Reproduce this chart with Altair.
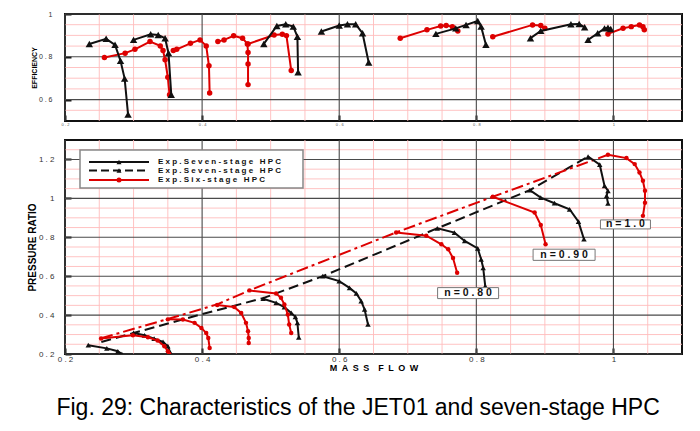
import altair as alt
import pandas as pd

X_DOMAIN = [0.2, 1.1]
X_TICKS = [0.2, 0.4, 0.6, 0.8, 1.0]
X_MINOR = [0.25, 0.3, 0.35, 0.45, 0.5, 0.55, 0.65, 0.7, 0.75, 0.85, 0.9, 0.95, 1.05]

EFF_DOMAIN = [0.5, 1.0]
EFF_TICKS = [0.6, 0.8, 1.0]
EFF_MINOR = [0.55, 0.65, 0.7, 0.75, 0.85, 0.9, 0.95]

PR_DOMAIN = [0.2, 1.3]
PR_TICKS = [0.2, 0.4, 0.6, 0.8, 1.0, 1.2]
PR_MINOR = [0.25, 0.3, 0.35, 0.45, 0.5, 0.55, 0.65, 0.7, 0.75, 0.85, 0.9, 0.95, 1.05, 1.1, 1.15, 1.25]

# ---- Pressure ratio (bottom panel) ----
seven_mf = [
    [0.234, 0.261, 0.277, 0.283],
    [0.300, 0.316, 0.330, 0.343, 0.350, 0.354],
    [0.489, 0.508, 0.520, 0.530, 0.536, 0.539, 0.541],
    [0.576, 0.600, 0.615, 0.625, 0.632, 0.637, 0.642],
    [0.743, 0.768, 0.783, 0.802, 0.807, 0.810, 0.813],
    [0.878, 0.894, 0.914, 0.936, 0.949, 0.957],
    [0.963, 0.980, 0.987, 0.992, 0.990, 0.992],
]
seven_pr = [
    [0.245, 0.229, 0.214, 0.200],
    [0.308, 0.296, 0.279, 0.262, 0.240, 0.205],
    [0.484, 0.463, 0.441, 0.411, 0.391, 0.360, 0.286],
    [0.600, 0.575, 0.540, 0.511, 0.472, 0.429, 0.352],
    [0.846, 0.824, 0.781, 0.743, 0.687, 0.643, 0.549],
    [1.042, 1.004, 0.975, 0.944, 0.880, 0.790],
    [1.215, 1.173, 1.064, 1.039, 1.013, 0.974],
]
six_mf = [
    [0.2526, 0.299, 0.321, 0.335, 0.345, 0.350, 0.352],
    [0.350, 0.372, 0.389, 0.399, 0.406, 0.409, 0.411],
    [0.422, 0.447, 0.457, 0.464, 0.467, 0.468, 0.468],
    [0.469, 0.508, 0.515, 0.520, 0.525, 0.527, 0.530],
    [0.683, 0.727, 0.749, 0.759, 0.766, 0.772],
    [0.824, 0.885, 0.894, 0.901],
    [0.992, 1.019, 1.031, 1.038, 1.043, 1.046, 1.046, 1.043],
]
six_pr = [
    [0.280, 0.296, 0.286, 0.269, 0.240, 0.214, 0.200],
    [0.378, 0.377, 0.360, 0.334, 0.308, 0.282, 0.231],
    [0.452, 0.441, 0.411, 0.360, 0.317, 0.282, 0.257],
    [0.527, 0.511, 0.489, 0.455, 0.403, 0.352, 0.308],
    [0.825, 0.808, 0.764, 0.738, 0.693, 0.618],
    [1.008, 0.927, 0.863, 0.764],
    [1.224, 1.207, 1.176, 1.133, 1.090, 1.039, 0.978, 0.910],
]
seven_surge_mf = [0.253, 0.300, 0.400, 0.489, 0.576, 0.743, 0.878, 0.963]
seven_surge_pr = [0.262, 0.308, 0.405, 0.487, 0.600, 0.846, 1.042, 1.215]
six_surge_mf = [0.2526, 0.350, 0.422, 0.469, 0.683, 0.824, 0.992]
six_surge_pr = [0.281, 0.380, 0.455, 0.527, 0.825, 1.008, 1.224]

# ---- Efficiency (top panel) ----
seven_eff_mf = [
    [0.2355, 0.260, 0.273, 0.281, 0.287, 0.292],
    [0.300, 0.325, 0.336, 0.346, 0.351, 0.355],
    [0.490, 0.509, 0.522, 0.533, 0.539, 0.540],
    [0.574, 0.600, 0.612, 0.624, 0.634, 0.643],
    [0.741, 0.770, 0.785, 0.802, 0.807, 0.814],
    [0.879, 0.894, 0.938, 0.950, 0.958],
    [0.963, 0.977, 0.987, 0.992, 0.996],
]
seven_eff = [
    [0.860, 0.884, 0.856, 0.781, 0.698, 0.530],
    [0.879, 0.905, 0.902, 0.887, 0.817, 0.623],
    [0.860, 0.944, 0.952, 0.941, 0.894, 0.728],
    [0.918, 0.946, 0.952, 0.952, 0.910, 0.773],
    [0.907, 0.933, 0.949, 0.967, 0.941, 0.856],
    [0.887, 0.921, 0.952, 0.953, 0.938],
    [0.879, 0.910, 0.933, 0.936, 0.930],
]
six_eff_mf = [
    [0.2575, 0.2877, 0.302, 0.324, 0.339, 0.343, 0.346, 0.350, 0.3525],
    [0.358, 0.363, 0.383, 0.397, 0.406, 0.410, 0.411],
    [0.423, 0.432, 0.446, 0.459, 0.466, 0.467, 0.467, 0.467],
    [0.467, 0.505, 0.517, 0.523, 0.530],
    [0.689, 0.728, 0.748, 0.756, 0.765, 0.773],
    [0.824, 0.882, 0.894, 0.900],
    [0.992, 1.014, 1.026, 1.038, 1.043, 1.045],
]
six_eff = [
    [0.797, 0.817, 0.835, 0.871, 0.851, 0.829, 0.786, 0.704, 0.623],
    [0.829, 0.835, 0.863, 0.879, 0.851, 0.758, 0.631],
    [0.871, 0.879, 0.898, 0.887, 0.860, 0.820, 0.766, 0.670],
    [0.860, 0.902, 0.905, 0.899, 0.736],
    [0.887, 0.926, 0.944, 0.946, 0.941, 0.921],
    [0.894, 0.949, 0.946, 0.933],
    [0.907, 0.933, 0.941, 0.949, 0.941, 0.926],
]

speed_labels = ["n = 1 . 0", "n = 0 . 9 0", "n = 0 . 8 0"]
speed_label_mf = [1.0175, 0.928, 0.788]
speed_label_pr = [0.866, 0.710, 0.513]
speed_box_w = [50, 62, 61]

legend_labels = ["Exp.Seven-stage HPC", "Exp.Seven-stage HPC", "Exp.Six-stage HPC"]

BLACK = "#111111"
RED = "#dd0000"
FONT = "Liberation Sans"
NB = "\u00a0"
EN = "\u2002"
LBL = ("datum.value == 1 ? '1' : replace(format(datum.value, '.1f'), '.', '"
       + NB + "." + NB + "')")


def spaced(s, gap=NB, word_gap=None):
    if word_gap is None:
        word_gap = gap * 3
    return word_gap.join(gap.join(w) for w in s.split(" "))


def long_df(mfs, vals, name):
    rows = []
    for c, (xv, yv) in enumerate(zip(mfs, vals)):
        for i, (x, y) in enumerate(zip(xv, yv)):
            rows.append({"curve": f"{name}{c}", "idx": i, "mf": x, "val": y})
    return pd.DataFrame(rows)


def make_enc(xaxis, ydomain, yaxis):
    def xs():
        return alt.X("mf:Q", scale=alt.Scale(domain=X_DOMAIN, nice=False, zero=False), axis=xaxis)

    def ys():
        return alt.Y("val:Q", scale=alt.Scale(domain=ydomain, nice=False, zero=False), axis=yaxis)
    return xs, ys


def grid_layers(xs, ys, yticks, yminor):
    return [
        alt.Chart(pd.DataFrame({"mf": X_MINOR})).mark_rule(color="#ffbcbc", strokeWidth=0.9).encode(x=xs()),
        alt.Chart(pd.DataFrame({"val": yminor})).mark_rule(color="#ffbcbc", strokeWidth=0.9).encode(y=ys()),
        alt.Chart(pd.DataFrame({"mf": X_TICKS})).mark_rule(color="#4a4a4a", strokeWidth=1.1).encode(x=xs()),
        alt.Chart(pd.DataFrame({"val": yticks})).mark_rule(color="#4a4a4a", strokeWidth=1.1).encode(y=ys()),
    ]


def curve_layers(df, xs, ys, color, shape, size, width=2):
    line = alt.Chart(df).mark_line(color=color, strokeWidth=width, clip=True).encode(
        x=xs(), y=ys(), detail="curve:N", order="idx:Q"
    )
    pts = alt.Chart(df).mark_point(
        shape=shape, filled=True, color=color, size=size, opacity=1, clip=True
    ).encode(x=xs(), y=ys(), detail="curve:N")
    return [line, pts]


TICK_IN = dict(ticks=True, tickSize=6, tickWidth=2, tickColor=BLACK, offset=-6)

# ---------------- top panel ----------------
top_xaxis = alt.Axis(values=X_TICKS, labelExpr=LBL, labelFontSize=4, labelPadding=1,
                     labelColor="#555", domain=False, grid=False, title=None,
                     labelFlush=False, labelOverlap=False, **TICK_IN)
top_yaxis = alt.Axis(values=EFF_TICKS, labelExpr=LBL, labelFontSize=7, labelPadding=13,
                     labelColor="#333", domain=False, grid=False,
                     title="EFFICIENCY", titleFontSize=7, titleFontWeight="bold",
                     titlePadding=1, titleColor="black", labelOverlap=False, **TICK_IN)
txs, tys = make_enc(top_xaxis, EFF_DOMAIN, top_yaxis)

top_layers = grid_layers(txs, tys, EFF_TICKS, EFF_MINOR)
top_layers += curve_layers(long_df(six_eff_mf, six_eff, "s"), txs, tys, RED, "circle", 30)
top_layers += curve_layers(long_df(seven_eff_mf, seven_eff, "b"), txs, tys, BLACK, "triangle-up", 55)
top = alt.layer(*top_layers).properties(width=617, height=107)

# ---------------- bottom panel ----------------
bot_xaxis = alt.Axis(values=X_TICKS, labelExpr=LBL, labelFontSize=8, labelPadding=1,
                     labelColor="#333", domain=False, grid=False,
                     title=spaced("MASS FLOW", EN, EN + EN), titleFontSize=9,
                     titleFontWeight="bold", titlePadding=0, titleColor="black",
                     labelFlush=False, labelOverlap=False, **TICK_IN)
bot_yaxis = alt.Axis(values=PR_TICKS, labelExpr=LBL, labelFontSize=8, labelPadding=11,
                     labelColor="#333", domain=False, grid=False,
                     title="PRESSURE RATIO", titleFontSize=10, titleFontWeight="bold",
                     titlePadding=1, titleColor="black", labelOverlap=False, **TICK_IN)
bxs, bys = make_enc(bot_xaxis, PR_DOMAIN, bot_yaxis)

bot_layers = grid_layers(bxs, bys, PR_TICKS, PR_MINOR)

seven_surge = pd.DataFrame({"mf": seven_surge_mf, "val": seven_surge_pr, "idx": range(len(seven_surge_mf))})
six_surge = pd.DataFrame({"mf": six_surge_mf, "val": six_surge_pr, "idx": range(len(six_surge_mf))})
bot_layers.append(alt.Chart(seven_surge).mark_line(color=BLACK, strokeWidth=2, strokeDash=[10, 5], clip=True)
                  .encode(x=bxs(), y=bys(), order="idx:Q"))
bot_layers.append(alt.Chart(six_surge).mark_line(color=RED, strokeWidth=2, strokeDash=[12, 4, 3, 4], clip=True)
                  .encode(x=bxs(), y=bys(), order="idx:Q"))
bot_layers += curve_layers(long_df(seven_mf, seven_pr, "b"), bxs, bys, BLACK, "triangle-up", 30)
bot_layers += curve_layers(long_df(six_mf, six_pr, "s"), bxs, bys, RED, "circle", 20)

# speed labels with boxes
for lab, xm, yv, w in zip(speed_labels, speed_label_mf, speed_label_pr, speed_box_w):
    d = pd.DataFrame({"mf": [xm], "val": [yv], "t": [spaced(lab.replace(" ", ""))]})
    bot_layers.append(alt.Chart(d).mark_point(
        shape="M-1,-0.18H1V0.18H-1Z", filled=True, fill="white", stroke="#777777",
        strokeWidth=1, opacity=1, size=w * w).encode(x=bxs(), y=bys()))
    bot_layers.append(alt.Chart(d).mark_text(font=FONT, fontSize=10.5, fontWeight="bold",
                                             color=BLACK, align="center", baseline="middle")
                      .encode(x=bxs(), y=bys(), text="t:N"))

# legend box
one = pd.DataFrame({"k": [0]})
bot_layers.append(alt.Chart(one).mark_rect(fill="white", stroke="#888888", strokeWidth=1.5).encode(
    x=alt.value(15), x2=alt.value(238), y=alt.value(10), y2=alt.value(48)))
leg_y = [22, 30.5, 40]
leg_col = [BLACK, BLACK, RED]
leg_dash = [[1, 0], [8, 4], [1, 0]]
leg_shape = ["triangle-up", "triangle-up", "circle"]
for lab, yy, col, dash, shp in zip(legend_labels, leg_y, leg_col, leg_dash, leg_shape):
    bot_layers.append(alt.Chart(one).mark_rule(color=col, strokeWidth=2, strokeDash=dash).encode(
        x=alt.value(24), x2=alt.value(84), y=alt.value(yy)))
    bot_layers.append(alt.Chart(one).mark_point(shape=shp, filled=True, color=col, size=25, opacity=1)
                      .encode(x=alt.value(54), y=alt.value(yy)))
    bot_layers.append(alt.Chart(one).mark_text(font=FONT, fontSize=8, fontWeight="bold", color=BLACK,
                                               align="left", baseline="middle")
                      .encode(x=alt.value(93), y=alt.value(yy), text=alt.value(spaced(lab))))

bottom = alt.layer(*bot_layers).properties(width=617, height=214)

chart = alt.vconcat(top, bottom, spacing=11).properties(
    padding={"left": 18, "top": 1, "right": 5, "bottom": 0},
    title=alt.TitleParams(
        text="Fig. 29: Characteristics of the JET01 and seven-stage HPC",
        orient="bottom", anchor="start", fontSize=23, font=FONT, fontWeight="normal",
        color="black", offset=24, dx=30,
    ),
).configure_view(stroke=BLACK, strokeWidth=2).configure_axis(
    labelFont=FONT, titleFont=FONT
)

chart.save("out.html", embed_options={"renderer": "svg", "actions": False})
